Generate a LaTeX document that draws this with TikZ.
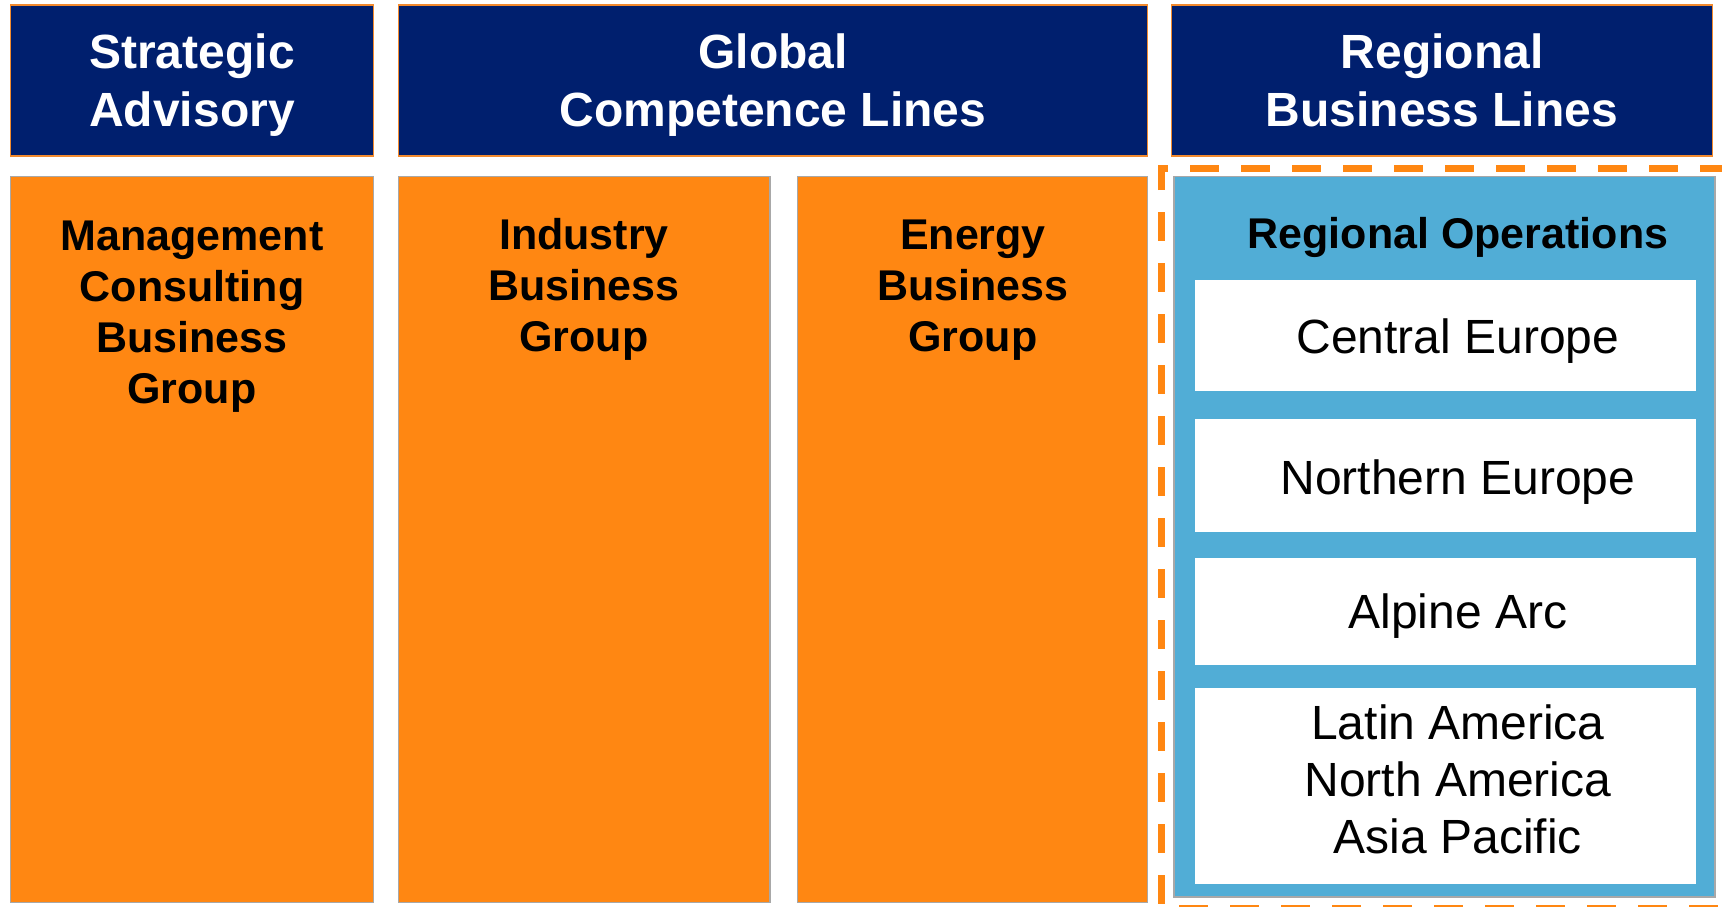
\documentclass[tikz,border=0pt]{standalone}
\usepackage{fontspec}
\setmainfont{Liberation Sans}
\definecolor{navy}{HTML}{001F6E}
\definecolor{orfill}{HTML}{FF8712}
\definecolor{orline}{HTML}{F28A2E}
\definecolor{graybd}{HTML}{A8A8A8}
\definecolor{bluefill}{HTML}{51ADD6}
\newcommand\stk[1]{\begin{tabular}[t]{@{}c@{}}#1\end{tabular}}
\begin{document}
\begin{tikzpicture}[x=1pt,y=-1pt,
  box/.style={rectangle, inner sep=0pt, outer sep=0pt},
  hdr/.style={box, fill=navy, draw=orline, line width=1.5pt},
  col/.style={box, fill=orfill, draw=graybd, line width=1.5pt},
  bluebox/.style={box, fill=bluefill, draw=graybd, line width=1.5pt},
  whitebox/.style={box, fill=white},
  hdrtext/.style={anchor=base, inner sep=0pt, text=white, font=\fontsize{48}{58}\selectfont\bfseries},
  coltext/.style={anchor=base, inner sep=0pt, text=black, font=\fontsize{43}{51}\selectfont\bfseries},
  regtext/.style={anchor=base, inner sep=0pt, text=black, font=\fontsize{48}{57}\selectfont},
  dashline/.style={draw=orfill, line width=7pt, dash pattern=on 29pt off 22pt}
]
\useasboundingbox (0,0) rectangle (1722,907);
\clip (0,0) rectangle (1722,907);
\fill[white] (0,0) rectangle (1722,907);

% header boxes
\node[hdr, minimum width=363pt, minimum height=151pt] (sa) at (192,80.5) {};
\node[hdr, minimum width=749pt, minimum height=151pt] (gcl) at (773,80.5) {};
\node[hdr, minimum width=541pt, minimum height=151pt] (rbl) at (1442,80.5) {};

% orange columns
\node[col, minimum width=363pt, minimum height=726pt] (mc) at (192,539.5) {};
\node[col, minimum width=371.5pt, minimum height=726pt] (ib) at (584.25,539.5) {};
\node[col, minimum width=350pt, minimum height=726pt] (eb) at (972.5,539.5) {};

% dashed frame
\coordinate (dc) at (1161,190);
\coordinate (dtl) at (1161,168);
\coordinate (dtr) at (1760,168);
\coordinate (dbl) at (1161,908);
\coordinate (dbr) at (1760,908);
\draw[dashline] (dc) -- (dtl) -- (dtr);
\draw[dashline, dash phase=29pt] (dc) -- (dbl) -- (dbr);

% blue box and white boxes
\node[bluebox, minimum width=541pt, minimum height=720.5pt] (ro) at (1444.5,536.75) {};
\node[whitebox, minimum width=501pt, minimum height=111pt] (ce) at (1445.5,335.5) {};
\node[whitebox, minimum width=501pt, minimum height=113pt] (ne) at (1445.5,475.5) {};
\node[whitebox, minimum width=501pt, minimum height=107pt] (aa) at (1445.5,611.5) {};
\node[whitebox, minimum width=501pt, minimum height=196pt] (la) at (1445.5,786) {};

% texts
\node[hdrtext] (tsa) at (192,69) {\stk{Strategic\\Advisory}};
\node[hdrtext] (tgcl) at (773,69) {\stk{Global\\Competence Lines}};
\node[hdrtext] (trbl) at (1442,69) {\stk{Regional\\Business Lines}};

\node[coltext] (tmc) at (192,250) {\stk{Management\\Consulting\\Business\\Group}};
\node[coltext] (tib) at (584,249) {\stk{Industry\\Business\\Group}};
\node[coltext] (teb) at (973,249) {\stk{Energy\\Business\\Group}};

\node[coltext] (tro) at (1458,248) {Regional Operations};
\node[regtext] (tce) at (1458,353) {Central Europe};
\node[regtext] (tne) at (1458,494) {Northern Europe};
\node[regtext] (taa) at (1458,628) {Alpine Arc};
\node[regtext] (tla) at (1458,739) {\stk{Latin America\\North America\\Asia Pacific}};
\end{tikzpicture}
\end{document}
